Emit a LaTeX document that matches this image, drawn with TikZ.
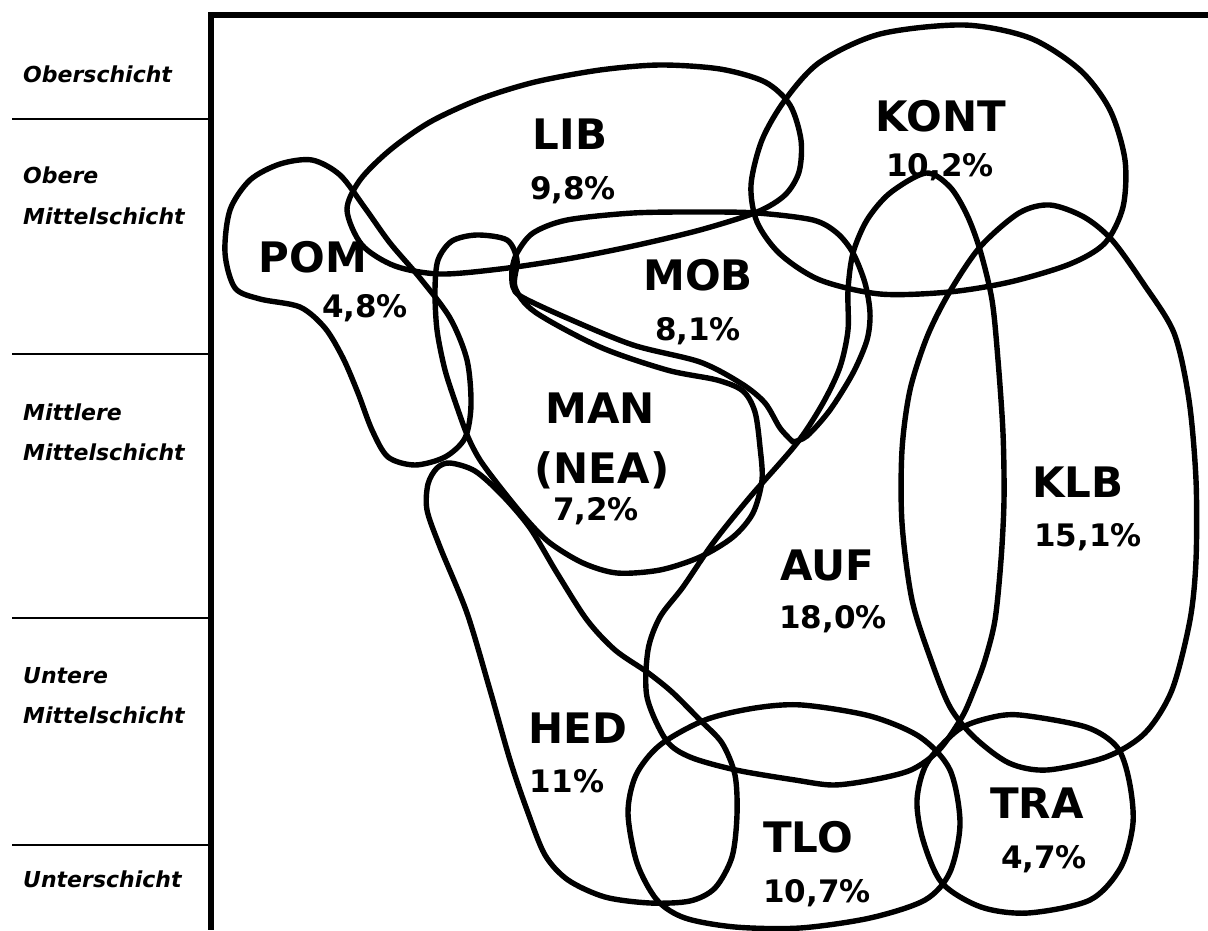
\documentclass[tikz,border=0pt]{standalone}
\usepackage{fontspec}
\setmainfont{DejaVu Sans}

\tikzset{
	milieu/.style={line width=5.4pt, line join=round, line cap=round},
	frameline/.style={line width=5.5pt},
	layerline/.style={line width=1.3pt},
	mtag/.style={inner sep=0pt, anchor=base, font=\bfseries\fontsize{42}{42}\selectfont},
	mshare/.style={inner sep=0pt, anchor=base, font=\bfseries\fontsize{31}{31}\selectfont},
	stratum/.style={inner sep=0pt, anchor=base west, font=\bfseries\itshape\fontsize{22}{22}\selectfont},
}

\begin{document}
\begin{tikzpicture}[x=1pt, y=-1pt]
	\useasboundingbox (0,0) rectangle (1208,930);

	\draw [frameline] (1208,15) -| (211,930);
	\draw [layerline] (12,119) -- (208,119);
	\draw [layerline] (12,354) -- (208,354);
	\draw [layerline] (12,618) -- (208,618);
	\draw [layerline] (12,845) -- (208,845);

	\node [stratum] (ober) at (23,82) {Oberschicht};
	\node [stratum] (omitte1) at (23,183) {Obere};
	\node [stratum] (omitte2) at (23,224) {Mittelschicht};
	\node [stratum] (mmitte1) at (23,420) {Mittlere};
	\node [stratum] (mmitte2) at (23,460) {Mittelschicht};
	\node [stratum] (umitte1) at (23,683) {Untere};
	\node [stratum] (umitte2) at (23,723) {Mittelschicht};
	\node [stratum] (unter) at (23,887) {Unterschicht};

	\draw [milieu] plot [smooth cycle] coordinates {(312,160) (340,175) (365,208) (390,243) (420,278) (450,318) (467,360) (471,405) (465,438) (445,457) (415,465) (388,457) (372,430) (358,393) (343,358) (325,328) (300,307) (260,299) (235,288) (225,253) (230,210) (250,180) (280,164)};
	\draw [milieu] plot [smooth cycle] coordinates {(347,210) (360,180) (390,150) (430,122) (480,99) (535,82) (600,70) (660,65) (720,69) (765,82) (790,105) (801,140) (799,172) (785,195) (757,212) (700,230) (633,246) (567,259) (500,269) (440,274) (395,266) (362,245)};
	\draw [milieu] plot [smooth cycle] coordinates {(964,25) (1030,38) (1080,70) (1110,110) (1125,160) (1123,207) (1105,243) (1070,264) (1010,282) (949,292) (880,294) (820,280) (780,254) (757,222) (751,185) (762,140) (785,100) (820,62) (880,34)};
	\draw [milieu] plot [smooth] coordinates {(793,442) (807,436) (830,410) (853,373) (867,340) (870,313) (865,283) (853,253) (837,233) (813,220) (757,213) (700,212) (633,213) (567,220) (533,233) (517,253) (512,270) (513,287) (522,297) (567,318) (633,345) (700,362) (742,384) (765,403) (780,428) (793,442)};
	\draw [milieu] plot [smooth cycle] coordinates {(517,260) (507,240) (477,235) (452,241) (438,260) (435,290) (437,330) (445,370) (457,407) (468,437) (480,460) (500,487) (527,520) (550,543) (583,563) (617,573) (660,570) (700,557) (733,537) (753,513) (762,480) (760,447) (755,412) (743,391) (717,380) (667,370) (600,347) (535,312) (515,287)};
	\draw [milieu] plot [smooth cycle] coordinates {(926,173) (950,187) (967,215) (980,250) (992,300) (998,360) (1003,433) (1004,500) (1001,560) (995,620) (985,660) (974,690) (962,717) (939,750) (911,770) (872,780) (833,785) (795,780) (736,770) (690,757) (666,740) (647,697) (648,650) (660,617) (683,587) (713,543) (750,497) (797,443) (823,403) (840,367) (848,330) (848,290) (853,253) (867,220) (890,193)};
	\draw [milieu] plot [smooth cycle] coordinates {(1050,205) (1084,217) (1112,240) (1143,283) (1174,333) (1189,400) (1196,480) (1196,560) (1190,620) (1172,690) (1145,733) (1106,757) (1047,770) (1009,763) (974,737) (950,707) (931,660) (912,600) (902,523) (902,450) (910,390) (927,337) (949,293) (980,247) (1019,213)};
	\draw [milieu] plot [smooth cycle] coordinates {(450,463) (475,471) (502,495) (530,528) (557,573) (587,620) (615,650) (647,672) (672,692) (700,720) (722,743) (735,775) (737,815) (732,857) (715,888) (690,901) (650,903) (605,897) (568,880) (545,855) (527,810) (510,760) (490,690) (467,613) (440,547) (427,510) (428,484) (437,468)};
	\draw [milieu] plot [smooth cycle] coordinates {(802,705) (870,716) (920,737) (950,770) (960,823) (950,872) (925,900) (870,918) (800,928) (735,927) (685,918) (657,900) (637,863) (628,813) (636,775) (660,745) (705,720) (755,708)};
	\draw [milieu] plot [smooth cycle] coordinates {(1020,715) (1086,727) (1117,747) (1129,780) (1133,823) (1121,867) (1090,900) (1028,913) (981,907) (942,883) (923,840) (917,800) (927,763) (958,730) (989,718)};

	\node [mtag] (pom) at (313,272) {POM};
	\node [mshare] (pomshare) at (365,317) {4,8\%};
	\node [mtag] (lib) at (570,149) {LIB};
	\node [mshare] (libshare) at (573,199) {9,8\%};
	\node [mtag] (kont) at (941,131) {KONT};
	\node [mshare] (kontshare) at (940,176) {10,2\%};
	\node [mtag] (mob) at (698,290) {MOB};
	\node [mshare] (mobshare) at (698,340) {8,1\%};
	\node [mtag] (man) at (600,423) {MAN};
	\node [mtag] (nea) at (602,483) {(NEA)};
	\node [mshare] (manshare) at (596,520) {7,2\%};
	\node [mtag] (auf) at (827,580) {AUF};
	\node [mshare] (aufshare) at (833,628) {18,0\%};
	\node [mtag] (klb) at (1078,497) {KLB};
	\node [mshare] (klbshare) at (1088,546) {15,1\%};
	\node [mtag] (hed) at (578,743) {HED};
	\node [mshare] (hedshare) at (567,792) {11\%};
	\node [mtag] (tlo) at (808,852) {TLO};
	\node [mshare] (tloshare) at (817,902) {10,7\%};
	\node [mtag] (tra) at (1037,818) {TRA};
	\node [mshare] (trashare) at (1044,868) {4,7\%};
\end{tikzpicture}
\end{document}
